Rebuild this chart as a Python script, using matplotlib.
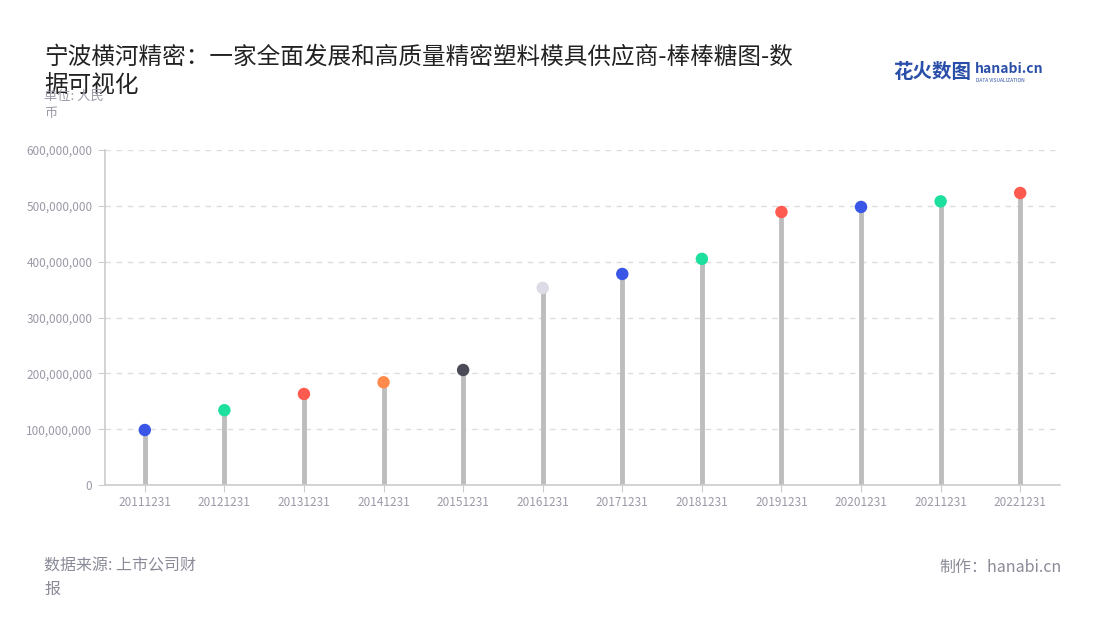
import matplotlib.pyplot as plt
import numpy as np

plt.rcParams['font.family'] = ['Noto Sans CJK SC', 'DejaVu Sans']

# data
dates = ['20111231', '20121231', '20131231', '20141231', '20151231', '20161231',
         '20171231', '20181231', '20191231', '20201231', '20211231', '20221231']
values = [98.5e6, 134e6, 163e6, 184e6, 206e6, 353e6,
          378e6, 405e6, 489e6, 498e6, 508e6, 523e6]
dot_colors = ['#3a56e6', '#1de09e', '#ff5a4f', '#ff8a4c', '#4b4b57', '#dcdbe6',
              '#3a56e6', '#1de09e', '#ff5a4f', '#3a56e6', '#1de09e', '#ff5a4f']

fig = plt.figure(figsize=(11, 6.2), dpi=100)
ax = fig.add_axes([105/1100, 1 - 485/620, 955/1100, 335/620])

x = np.arange(len(dates))
ax.vlines(x, 0, values, color='#bdbdbd', lw=3.5, zorder=2)
ax.scatter(x, values, s=80, c=dot_colors, zorder=3, edgecolors='none')

ax.set_xlim(-0.5, len(dates) - 0.5)
ax.set_ylim(0, 600e6)
ax.set_xticks(x)
ax.set_xticklabels(dates, fontsize=8.5, color='#9a9aa8')
yt = np.arange(0, 600e6 + 1, 100e6)
ax.set_yticks(yt)
ax.set_yticklabels(['0' if v == 0 else f'{int(v):,}' for v in yt], fontsize=8.5, color='#9a9aa8')
ax.grid(axis='y', color='#dddddd', ls=(0, (4, 4)), lw=1)
ax.set_axisbelow(True)
for s in ['top', 'right']:
    ax.spines[s].set_visible(False)
for s in ['left', 'bottom']:
    ax.spines[s].set_color('#cccccc')
    ax.spines[s].set_linewidth(1.2)
ax.tick_params(axis='x', length=5, color='#cccccc', pad=3)
ax.tick_params(axis='y', length=5, color='#cccccc', pad=4)

# texts
fig.text(44/1100, 1 - 71/620, '宁波横河精密：一家全面发展和高质量精密塑料模具供应商-棒棒糖图-数\n据可视化',
         fontsize=17, color='#222222', va='center', linespacing=1.3)
fig.text(44/1100, 1 - 105/620, '单位: 人民\n币', fontsize=9.5, color='#9a9aa8', va='center', linespacing=1.5)
fig.text(44/1100, 1 - 578/620, '数据来源: 上市公司财\n报', fontsize=11.5, color='#8a8a98', va='center', linespacing=1.5)
fig.text(1062/1100, 1 - 567/620, '制作：hanabi.cn', fontsize=11.5, color='#8a8a98', va='center', ha='right')

# logo
fig.text(893/1100, 1 - 72/620, '花火数图', fontsize=14, color='#2a4fa8', va='center', fontweight='bold')
fig.text(975/1100, 1 - 69/620, 'hanabi.cn', fontsize=10, color='#2a4fa8', va='center', fontweight='bold')
fig.text(976/1100, 1 - 80/620, 'DATA VISUALIZATION', fontsize=3.5, color='#2a4fa8', va='center')

fig.savefig('out.png', dpi=100)
